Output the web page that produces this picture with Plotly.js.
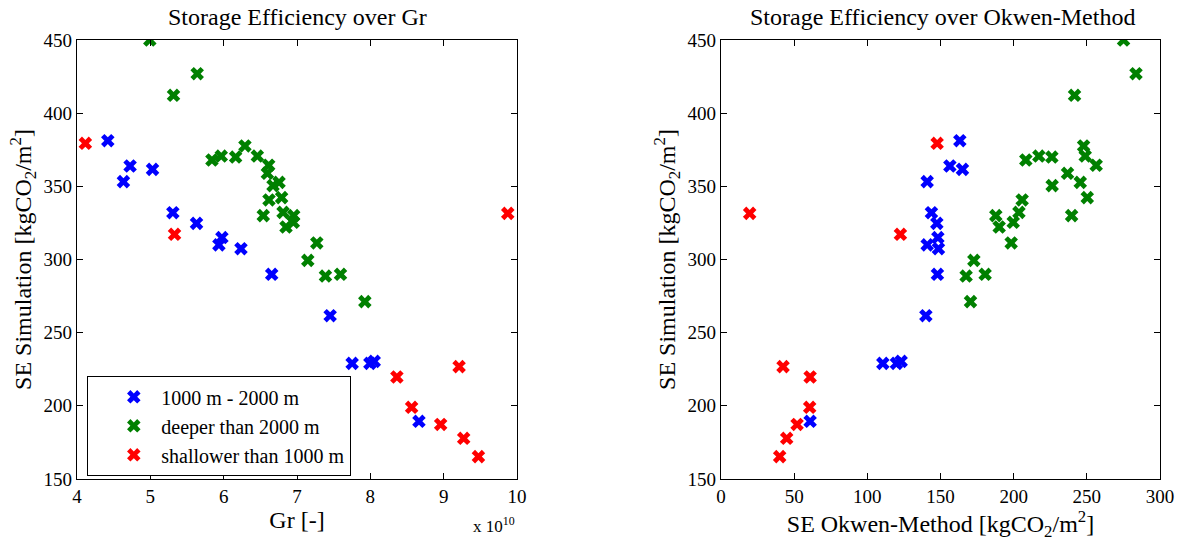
<!DOCTYPE html>
<html>
<head>
<meta charset="utf-8">
<script src="https://cdn.plot.ly/plotly-3.0.1.min.js"></script>
<style>html,body{margin:0;padding:0;background:#fff;}#chart{width:1184px;height:541px;}</style>
</head>
<body>
<div id="chart"></div>
<script>
// 1000 m - 2000 m (blue)
const blueGr    = [4.42, 4.724, 5.03, 4.633, 5.307, 5.63, 5.976, 5.935, 6.236, 6.655, 7.452, 7.752, 7.994, 8.053, 8.663];
const blueOkwen = [163.2, 156.4, 165.0, 140.9, 143.8, 147.5, 148.2, 140.9, 148.6, 147.9, 140.0, 110.6, 119.9, 123.1, 60.9];
const blueSE    = [381.2, 363.9, 361.6, 353.2, 332.0, 324.7, 315.0, 310.0, 307.4, 289.9, 261.6, 229.0, 229.0, 230.4, 189.4];
// deeper than 2000 m (green)
const greenGr    = [4.993, 5.639, 5.316, 6.29, 5.84, 6.163, 5.967, 6.459, 6.614, 6.596, 6.755, 6.673, 6.79, 6.618, 6.81, 6.955, 6.54, 6.95, 6.85, 7.27, 7.147, 7.388, 7.593, 7.925];
const greenOkwen = [275.1, 283.6, 241.6, 247.8, 208.3, 226.1, 217.2, 248.9, 256.4, 236.8, 245.5, 226.3, 250.3, 205.8, 203.6, 239.6, 187.8, 199.7, 190.1, 198.3, 172.8, 167.5, 180.5, 170.5];
const greenSE    = [450.0, 427.0, 412.2, 377.6, 368.0, 370.0, 370.7, 370.7, 364.4, 358.9, 352.7, 350.5, 342.3, 340.7, 332.2, 330.0, 330.0, 325.4, 322.2, 311.3, 299.4, 288.7, 289.9, 271.2];
// shallower than 1000 m (red)
const redGr    = [4.114, 5.33, 9.874, 8.362, 9.21, 8.563, 8.959, 9.273, 9.474];
const redOkwen = [147.7, 122.6, 19.6, 60.9, 42.4, 60.6, 52.0, 44.9, 40.1];
const redSE    = [379.4, 317.2, 331.5, 219.7, 226.8, 199.0, 187.3, 177.8, 165.3];

const names = ['1000 m - 2000 m', 'deeper than 2000 m', 'shallower than 1000 m'];
const colors = ['#0000ff', '#008000', '#ff0000'];
const grTicks = [4, 5, 6, 7, 8, 9, 10];
const okTicks = [0, 50, 100, 150, 200, 250, 300];
const seTicks = [150, 200, 250, 300, 350, 400, 450];

const FONT = '"Liberation Serif", "Times New Roman", serif';
const groups = [[blueGr, blueOkwen, blueSE], [greenGr, greenOkwen, greenSE], [redGr, redOkwen, redSE]];
const traces = [];
groups.forEach((g, i) => {
  const mk = {symbol: 'x', size: 12, color: colors[i], line: {width: 0}};
  traces.push({x: g[0], y: g[2], type: 'scatter', mode: 'markers', name: names[i], marker: mk,
               xaxis: 'x', yaxis: 'y', showlegend: true});
  traces.push({x: g[1], y: g[2], type: 'scatter', mode: 'markers', name: names[i], marker: mk,
               xaxis: 'x2', yaxis: 'y2', showlegend: false});
});

const axisBase = {
  showgrid: false, zeroline: false, showline: true, linecolor: '#000', linewidth: 1.3,
  mirror: 'ticks', ticks: 'inside', ticklen: 6, tickwidth: 1, tickcolor: '#000',
  tickfont: {family: FONT, size: 19, color: '#000'}
};
const seTitle = 'SE Simulation [kgCO<sub>2</sub>/m<sup>2</sup>]';
const TFONT = {family: FONT, size: 24, color: '#000'};

const layout = {
  width: 1184, height: 541,
  margin: {l: 0, r: 0, t: 0, b: 0},
  paper_bgcolor: '#fff', plot_bgcolor: '#fff',
  font: {family: FONT, size: 19, color: '#000'},
  xaxis: Object.assign({}, axisBase, {domain: [77/1184, 517/1184], range: [4, 10], tickvals: grTicks,
    anchor: 'y', title: {text: 'Gr [-]', font: TFONT, standoff: 2}}),
  yaxis: Object.assign({}, axisBase, {domain: [1 - 479/541, 1 - 40/541], range: [150, 450], tickvals: seTicks,
    anchor: 'x', title: {text: seTitle, font: TFONT, standoff: 5}}),
  xaxis2: Object.assign({}, axisBase, {domain: [721/1184, 1160/1184], range: [0, 300], tickvals: okTicks,
    anchor: 'y2', title: {text: 'SE Okwen-Method [kgCO<sub>2</sub>/m<sup>2</sup>]', font: TFONT, standoff: 2}}),
  yaxis2: Object.assign({}, axisBase, {domain: [1 - 479/541, 1 - 40/541], range: [150, 450], tickvals: seTicks,
    anchor: 'x2', title: {text: seTitle, font: TFONT, standoff: 5}}),
  showlegend: true,
  legend: {x: 87/1184, y: 1 - 376/541, xanchor: 'left', yanchor: 'top', bgcolor: '#fff',
    bordercolor: '#000', borderwidth: 1.3, font: {family: FONT, size: 20, color: '#000'},
    tracegroupgap: 0, itemwidth: 45, indentation: 18},
  annotations: [
    {text: 'Storage Efficiency over Gr', xref: 'paper', yref: 'paper', x: 297/1184, y: 1 - 17/541,
     xanchor: 'center', yanchor: 'middle', showarrow: false, font: TFONT},
    {text: 'Storage Efficiency over Okwen-Method', xref: 'paper', yref: 'paper', x: 942/1184, y: 1 - 17/541,
     xanchor: 'center', yanchor: 'middle', showarrow: false, font: TFONT},
    {text: 'x 10<sup>10</sup>', xref: 'paper', yref: 'paper', x: 517/1184, y: 1 - 525/541,
     xanchor: 'right', yanchor: 'middle', showarrow: false, font: {family: FONT, size: 17, color: '#000'}}
  ]
};

Plotly.newPlot('chart', traces, layout, {displayModeBar: false, staticPlot: true});
</script>
</body>
</html>
